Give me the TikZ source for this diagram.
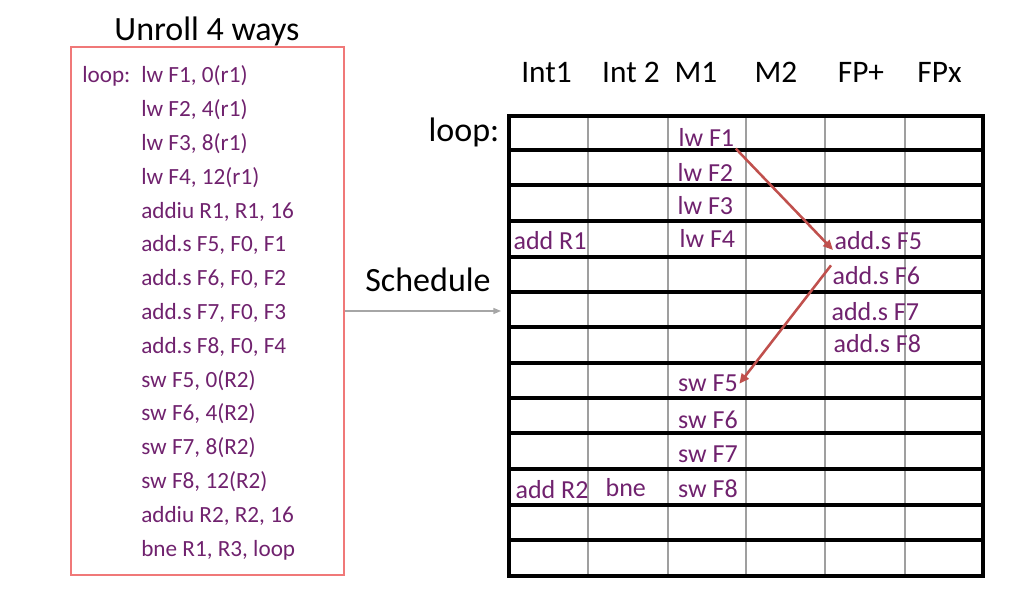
\documentclass[tikz,border=0pt]{standalone}
\usepackage{fontspec}
\setmainfont{Carlito}
\usetikzlibrary{arrows.meta,positioning}
\definecolor{codepurple}{RGB}{112,34,110}
\definecolor{boxred}{RGB}{240,120,120}
\definecolor{deparrow}{RGB}{192,80,77}

\begin{document}
\begin{tikzpicture}[
  x=0.75pt,y=-0.75pt,
  code/.style={font=\fontsize{17.4}{20}\selectfont,text=codepurple,anchor=base west,inner sep=0pt},
  cell/.style={font=\fontsize{19.5}{22}\selectfont,text=codepurple,anchor=base west,inner sep=1pt},
  head/.style={font=\fontsize{23.5}{26}\selectfont,anchor=base},
  big/.style={font=\fontsize{25.5}{28}\selectfont,anchor=base},
  rowline/.style={line width=2.8pt},
  colline/.style={gray!75,line width=1.2pt},
  dep/.style={-{Triangle[length=2.6mm,width=2.3mm]},deparrow,line width=1.9pt},
  sched/.style={-{Triangle[length=2mm,width=1.6mm]},gray!70,line width=0.9pt}
]
\useasboundingbox (0,0) rectangle (1024,591);

% unrolled loop body
\node[big] (unroll) at (207,41) {Unroll 4 ways};
\node[draw=boxred,line width=0.9pt,minimum width=204.75pt,minimum height=396pt] (code) at (207.5,311) {};
\node[code] (lbl) at (82,83) {loop:};
\foreach \txt [count=\i from 0] in {{lw F1, 0(r1)},{lw F2, 4(r1)},{lw F3, 8(r1)},{lw F4, 12(r1)},
    {addiu R1, R1, 16},{add.s F5, F0, F1},{add.s F6, F0, F2},{add.s F7, F0, F3},{add.s F8, F0, F4},
    {sw F5, 0(R2)},{sw F6, 4(R2)},{sw F7, 8(R2)},{sw F8, 12(R2)},{addiu R2, R2, 16},{bne R1, R3, loop}}
  \node[code] (ins\i) at (141,83+33.8*\i) {\txt};

% schedule table
\node[head] (hint1) at (546.5,83) {Int1};
\node[head] (hint2) at (631,83) {Int 2};
\node[head] (hm1) at (696,83) {M1};
\node[head] (hm2) at (776,83) {M2};
\node[head] (hfpa) at (861,83) {FP+};
\node[head] (hfpx) at (939.5,83) {FPx};
\node[big] (loop) at (464,142) {loop:};
\node[big] (sch) at (428,292) {Schedule};

\foreach \xc in {588,668,746,825,905}
  \draw[colline] (\xc,116) -- (\xc,576);
\foreach \yr in {150,185,221,257,292,327,363,398,433,469,505,540}
  \draw[rowline] (509,\yr) -- (983,\yr);
\draw[rowline,line width=3.2pt] (509,116) rectangle (983,576);
\coordinate (gridin) at (501,311);

\node[cell] (lw1) at (677,147) {lw F1};
\node[cell] (lw2) at (676,182) {lw F2};
\node[cell] (lw3) at (676,215) {lw F3};
\node[cell] (lw4) at (678,248) {lw F4};
\node[cell] (addr1) at (512,250) {add R1};
\node[cell] (add5) at (833,250) {add.s F5};
\node[cell] (add6) at (831,285) {add.s F6};
\node[cell] (add7) at (830,321) {add.s F7};
\node[cell] (add8) at (832,353) {add.s F8};
\node[cell] (sw5) at (676.5,392) {sw F5};
\node[cell] (sw6) at (676.5,428) {sw F6};
\node[cell] (sw7) at (676.5,462) {sw F7};
\node[cell] (sw8) at (676.5,497) {sw F8};
\node[cell] (addr2) at (514,498) {add R2};
\node[cell] (bne) at (604,496) {bne};

% dependences and the schedule step
\draw[dep] (lw1.south east) -- (add5.base west);
\draw[dep] (add6.north west) -- (sw5.east);
\draw[sched] (code) -- (gridin);
\end{tikzpicture}
\end{document}
